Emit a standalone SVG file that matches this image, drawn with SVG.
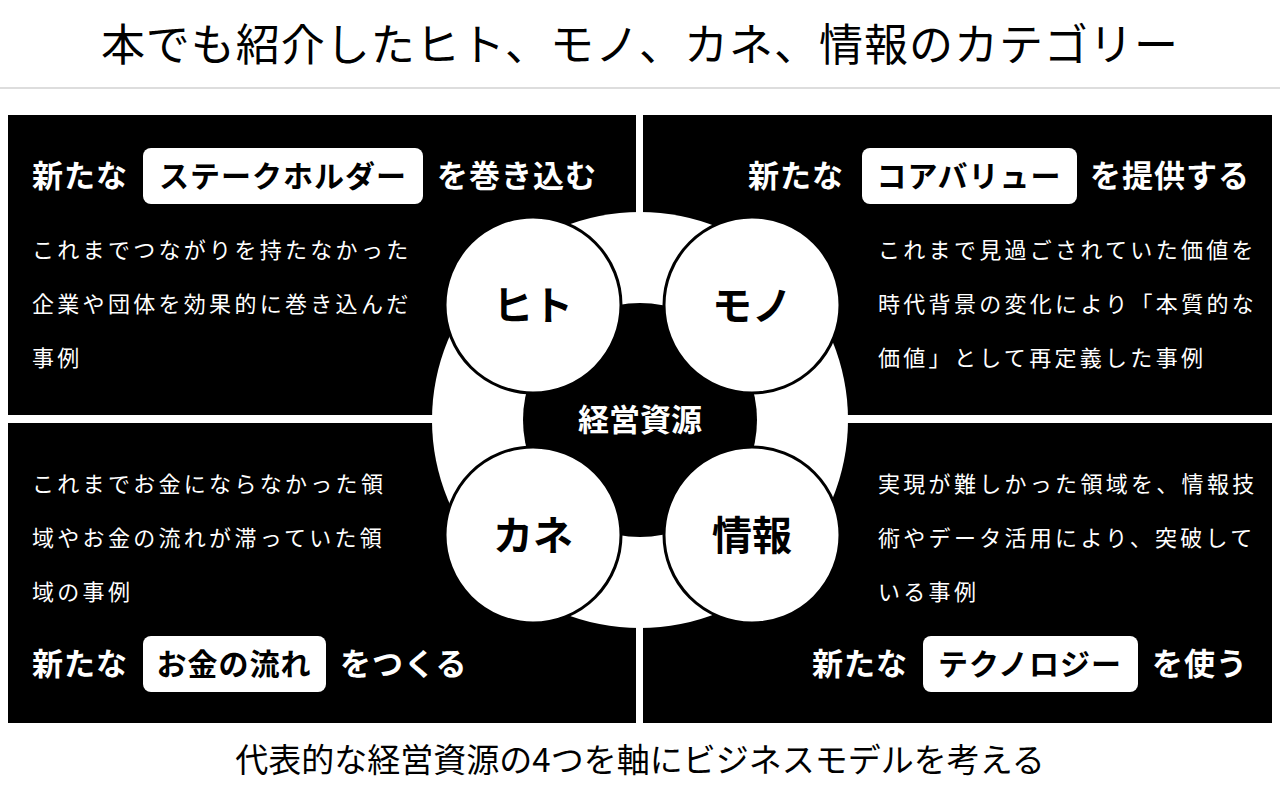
<svg xmlns="http://www.w3.org/2000/svg" width="1280" height="800" viewBox="0 0 1280 800">
<style>
text{font-family:"Noto Sans CJK JP","Noto Sans",sans-serif}
.q{fill:#000}
.h{fill:#fff;font-size:31px;font-weight:bold;letter-spacing:1px}
.p{fill:#000;font-size:30px;font-weight:bold;letter-spacing:1px}
.b{fill:#fff;font-size:22px;letter-spacing:3.3px}
.pill{fill:#fff}
.c{fill:#fff;stroke:#000;stroke-width:3}
.ct{fill:#000;font-size:40px;font-weight:bold;text-anchor:middle}
</style>
<rect width="1280" height="800" fill="#fff"/>
<text x="640" y="61" font-size="44" text-anchor="middle" fill="#000" letter-spacing="1">本でも紹介したヒト、モノ、カネ、情報のカテゴリー</text>
<line x1="0" y1="88" x2="1280" y2="88" stroke="#ddd" stroke-width="2"/>
<g id="q-tl"><rect class="q" x="8" y="115" width="628" height="300"/>
<text class="h" x="32" y="187">新たな</text><rect class="pill" x="143" y="148" width="280" height="56" rx="8"/><text class="p" x="283" y="187" text-anchor="middle">ステークホルダー</text><text class="h" x="437" y="187">を巻き込む</text>
<text class="b" x="32" y="258">これまでつながりを持たなかった</text><text class="b" x="32" y="312">企業や団体を効果的に巻き込んだ</text><text class="b" x="32" y="366">事例</text></g>
<g id="q-tr"><rect class="q" x="643" y="115" width="629" height="300"/>
<text class="h" x="748" y="187">新たな</text><rect class="pill" x="862" y="148" width="215" height="56" rx="8"/><text class="p" x="969" y="187" text-anchor="middle">コアバリュー</text><text class="h" x="1090" y="187">を提供する</text>
<text class="b" x="878" y="258">これまで見過ごされていた価値を</text><text class="b" x="878" y="312">時代背景の変化により「本質的な</text><text class="b" x="878" y="366">価値」として再定義した事例</text></g>
<g id="q-bl"><rect class="q" x="8" y="423" width="628" height="300"/>
<text class="b" x="32" y="492">これまでお金にならなかった領</text><text class="b" x="32" y="546">域やお金の流れが滞っていた領</text><text class="b" x="32" y="600">域の事例</text>
<text class="h" x="32" y="675">新たな</text><rect class="pill" x="143" y="636" width="183" height="56" rx="8"/><text class="p" x="234" y="675" text-anchor="middle">お金の流れ</text><text class="h" x="340" y="675">をつくる</text></g>
<g id="q-br"><rect class="q" x="643" y="423" width="629" height="300"/>
<text class="b" x="878" y="492">実現が難しかった領域を、情報技</text><text class="b" x="878" y="546">術やデータ活用により、突破して</text><text class="b" x="878" y="600">いる事例</text>
<text class="h" x="812" y="675">新たな</text><rect class="pill" x="923" y="636" width="215" height="56" rx="8"/><text class="p" x="1030" y="675" text-anchor="middle">テクノロジー</text><text class="h" x="1152" y="675">を使う</text></g>
<g id="ring"><circle cx="640" cy="420" r="208" fill="#fff"/><circle cx="640" cy="420" r="117" fill="#000"/>
<text x="640" y="431" font-size="31" font-weight="bold" fill="#fff" text-anchor="middle">経営資源</text></g>
<g id="hito"><circle class="c" cx="533" cy="305" r="88"/><text class="ct" x="533" y="320">ヒト</text></g>
<g id="mono"><circle class="c" cx="752" cy="305" r="88"/><text class="ct" x="752" y="320">モノ</text></g>
<g id="kane"><circle class="c" cx="533" cy="535" r="88"/><text class="ct" x="533" y="550">カネ</text></g>
<g id="joho"><circle class="c" cx="752" cy="535" r="88"/><text class="ct" x="752" y="550">情報</text></g>
<g id="connectors"/>
<text x="640" y="772" font-size="33" text-anchor="middle" fill="#000">代表的な経営資源の4つを軸にビジネスモデルを考える</text>
</svg>
